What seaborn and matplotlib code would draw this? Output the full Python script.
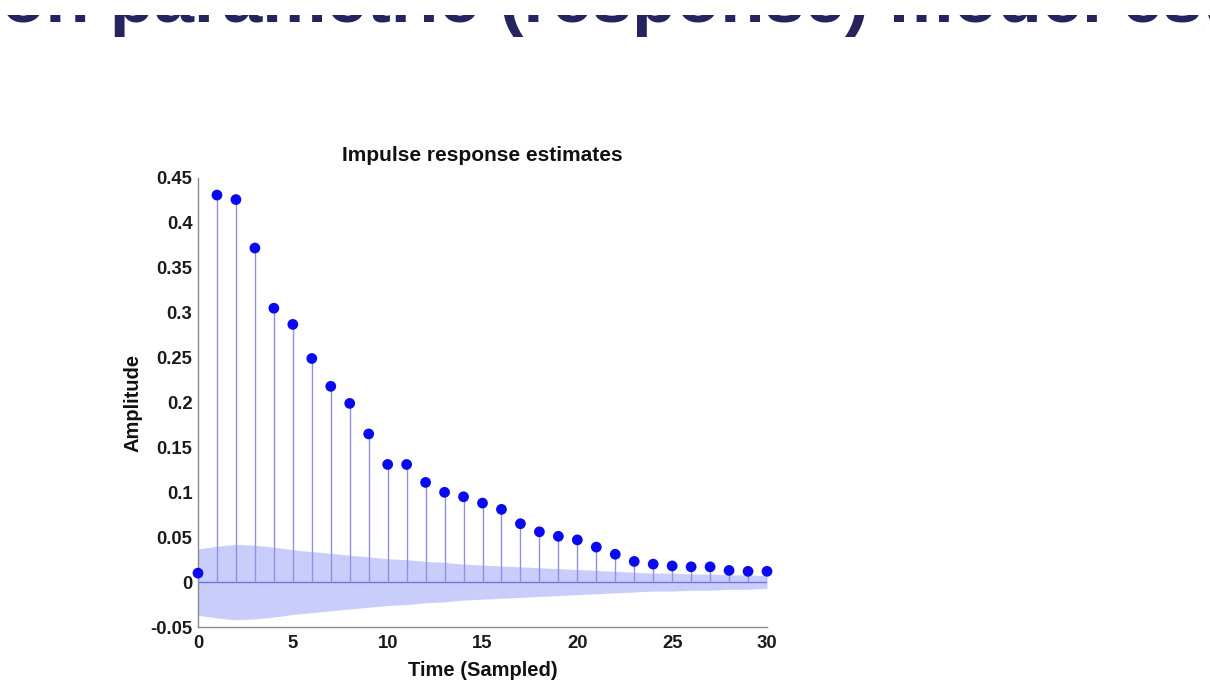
import numpy as np
import matplotlib
matplotlib.use("Agg")
import matplotlib.pyplot as plt
import seaborn as sns
from matplotlib.patches import Rectangle

sns.set_theme(style="white")
plt.rcParams["font.family"] = ["Liberation Sans", "DejaVu Sans"]

# impulse response estimate (lags 0..30)
lags = list(range(31))
amplitude = [0.010, 0.431, 0.426, 0.372, 0.305, 0.287, 0.249, 0.218, 0.199, 0.165,
             0.131, 0.131, 0.111, 0.100, 0.095, 0.088, 0.081, 0.065, 0.056, 0.051,
             0.047, 0.039, 0.031, 0.023, 0.020, 0.018, 0.017, 0.017, 0.013, 0.012,
             0.012]
# half-width of the confidence region around zero
band = [0.037, 0.040, 0.042, 0.041, 0.039, 0.036, 0.034, 0.032, 0.030, 0.028,
        0.026, 0.025, 0.023, 0.022, 0.020, 0.019, 0.018, 0.017, 0.016, 0.015,
        0.014, 0.013, 0.012, 0.011, 0.010, 0.010, 0.009, 0.009, 0.008, 0.008,
        0.007]
yticks = [-0.05, 0, 0.05, 0.1, 0.15, 0.2, 0.25, 0.3, 0.35, 0.4, 0.45]
ytick_labels = ["-0.05", "0", "0.05", "0.1", "0.15", "0.2", "0.25", "0.3", "0.35", "0.4", "0.45"]
xticks = [0, 5, 10, 15, 20, 25, 30]

fig = plt.figure(figsize=(12.1, 6.84), dpi=100, facecolor="white")
ax = fig.add_axes([198/1210, 57/684, 569/1210, 449/684])

lo = [-b for b in band]
ax.fill_between(lags, lo, band, color="#c9cdfb", lw=0, zorder=1)
ax.axhline(0, color="#7275d9", lw=1.0, zorder=2)
ax.vlines(lags, 0, amplitude, color="#8f91dc", lw=1.0, zorder=3)
sns.scatterplot(x=lags, y=amplitude, ax=ax, color="#0a0af0", s=60,
                edgecolor="none", zorder=4, clip_on=False)

ax.set_xlim(0, 30)
ax.set_ylim(-0.05, 0.45)
ax.set_xticks(xticks)
ax.set_yticks(yticks)
ax.set_yticklabels(ytick_labels)
for s in ["top", "right"]:
    ax.spines[s].set_visible(False)
for s in ["left", "bottom"]:
    ax.spines[s].set_color("#8a8a8a")
    ax.spines[s].set_linewidth(1.0)
ax.tick_params(direction="in", length=4, width=1, color="#8a8a8a",
               labelsize=13.3, labelcolor="#1a1a1a", pad=4)
ax.tick_params(axis="x", pad=6)
for lab in ax.get_xticklabels() + ax.get_yticklabels():
    lab.set_fontweight("bold")

ax.set_title("Impulse response estimates", fontsize=15, fontweight="bold",
             color="#111111", pad=12)
ax.set_xlabel("Time (Sampled)", fontsize=14.5, fontweight="bold", color="#111111")
ax.set_ylabel("Amplitude", fontsize=14.5, fontweight="bold", color="#111111")
ax.xaxis.set_label_coords(0.5, -0.076)
ax.yaxis.set_label_coords(-0.098, 0.5)

# slide heading, mostly cropped off at the top of the frame
hsize = 52
head = fig.text(0, 1 - 22/684, "Non parametric (response) model estimation",
                fontsize=hsize, fontweight="bold", color="#25245e", va="baseline",
                ha="left", zorder=3)
fig.canvas.draw()
r = fig.canvas.get_renderer()
probe = fig.text(0, 0, "Non ", fontsize=hsize, fontweight="bold")
w = probe.get_window_extent(r).width
probe.remove()
head.set_x((110 - w) / 1210)
# white strip hiding the upper part of the heading, as in the screenshot
fig.patches.append(Rectangle((0, 1 - 15/684), 1, 15/684, transform=fig.transFigure,
                             facecolor="white", edgecolor="none", zorder=10))

fig.savefig("out.png", dpi=100, facecolor="white")
plt.close(fig)
